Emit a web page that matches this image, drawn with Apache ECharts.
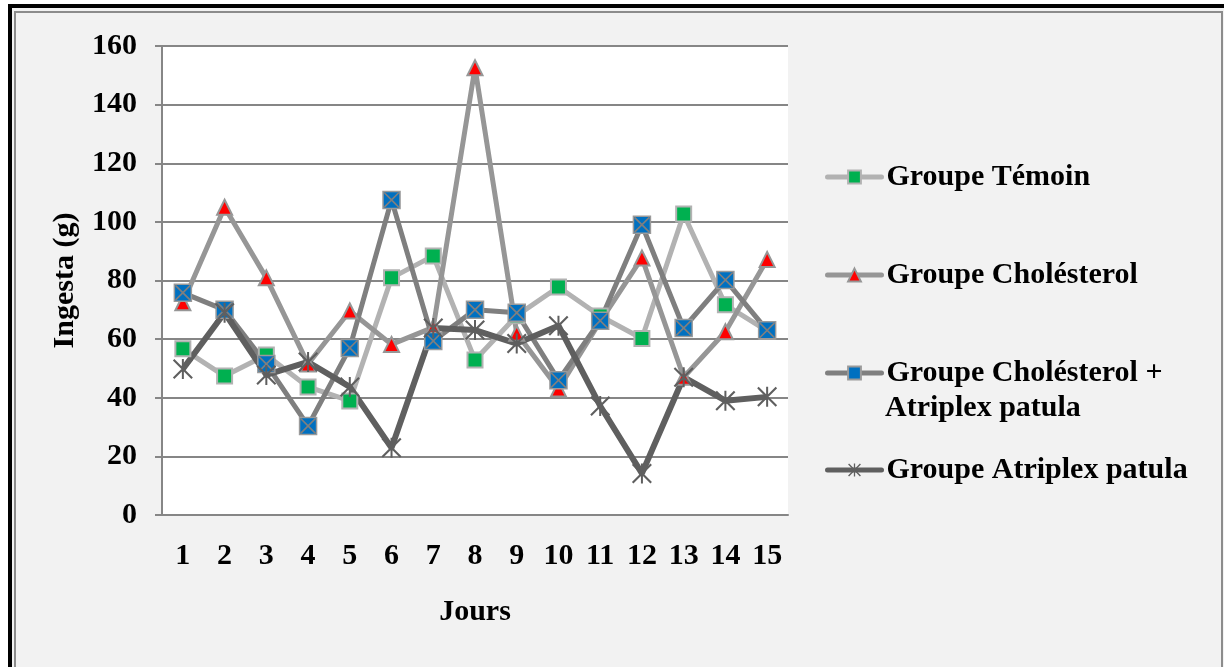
<!DOCTYPE html>
<html>
<head>
<meta charset="utf-8">
<script src="https://cdn.jsdelivr.net/npm/echarts@6/dist/echarts.min.js"></script>
<style>
html, body { margin: 0; padding: 0; background: #fff; }
#chart { width: 1224px; height: 667px; }
</style>
</head>
<body>
<div id="chart"></div>
<script>
// jours et ingesta (g)
var jours = ['1', '2', '3', '4', '5', '6', '7', '8', '9', '10', '11', '12', '13', '14', '15'];
var temoin = [56.7, 47.4, 54.6, 43.7, 38.9, 80.9, 88.4, 52.9, 68, 77.8, 67.9, 60.2, 102.7, 71.7, 62.8];
var cholesterol = [72.4, 105, 80.9, 51.5, 69.6, 58.2, 64, 152.6, 62, 43, 66, 87.7, 47, 62.5, 87.2];
var cholAtriplex = [75.8, 70, 51.5, 30.4, 57, 107.5, 59.4, 70, 69, 46, 66.3, 99, 63.8, 80.2, 63];
var atriplex = [49.8, 69, 47.8, 52.2, 43.7, 22.9, 63.8, 63.1, 58.5, 64.6, 37.2, 14.2, 47, 39, 40.3];
var yTicks = { min: 0, max: 160, interval: 20 };

var font = 'Liberation Serif';
var asterisk = 'path://M9,0L11,0L11,20L9,20Z M0,1.5L1.5,0L20,18.5L18.5,20Z M18.5,0L20,1.5L1.5,20L0,18.5Z';
var cross = 'path://M0,1.5L1.5,0L20,18.5L18.5,20Z M18.5,0L20,1.5L1.5,20L0,18.5Z';

var chart = echarts.init(document.getElementById('chart'));

function legendAt(name, centerY) {
    return {
        data: [name],
        left: 820,
        top: centerY - 17,
        itemWidth: 54,
        itemHeight: 16,
        lineStyle: { width: 5, cap: 'round' },
        textStyle: { fontFamily: font, fontWeight: 'bold', fontSize: 30, color: '#000', lineHeight: 34 }
    };
}

var option = {
    backgroundColor: '#fff',
    animation: false,
    graphic: [
        { type: 'rect', z: -10, shape: { x: 10, y: 6, width: 1240, height: 700 },
          style: { fill: '#f2f2f2', stroke: '#000', lineWidth: 4 } },
        { type: 'rect', z: -9, shape: { x: 15, y: 12, width: 1207, height: 700 },
          style: { fill: 'none', stroke: '#8c8c8c', lineWidth: 2 } },
        { type: 'text', left: 885, top: 393,
          style: { text: 'Atriplex patula', font: 'bold 30px "' + font + '"', fill: '#000' } }
    ],
    legend: [
        legendAt('Groupe Témoin', 172),
        legendAt('Groupe Cholésterol', 270),
        legendAt('Groupe Cholésterol +', 368),
        legendAt('Groupe Atriplex patula', 465)
    ],
    grid: {
        left: 162, right: 436, top: 46, bottom: 152,
        show: true, backgroundColor: '#fff', borderWidth: 0
    },
    xAxis: {
        type: 'category',
        data: jours,
        boundaryGap: true,
        name: 'Jours',
        nameLocation: 'middle',
        nameGap: 82,
        nameTextStyle: { fontFamily: font, fontWeight: 'bold', fontSize: 30, color: '#000' },
        axisLine: { lineStyle: { color: '#868686', width: 2 } },
        axisTick: { show: false },
        axisLabel: { margin: 26, fontFamily: font, fontWeight: 'bold', fontSize: 30, color: '#000', interval: 0 }
    },
    yAxis: {
        type: 'value',
        min: yTicks.min, max: yTicks.max, interval: yTicks.interval,
        name: 'Ingesta (g)',
        nameLocation: 'middle',
        nameRotate: 90,
        nameGap: 82,
        nameTextStyle: { fontFamily: font, fontWeight: 'bold', fontSize: 30, color: '#000' },
        axisLine: { show: true, lineStyle: { color: '#868686', width: 2 } },
        axisTick: { show: true, length: 7, lineStyle: { color: '#868686', width: 2 } },
        splitLine: { lineStyle: { color: '#868686', width: 2 } },
        axisLabel: { margin: 25, fontFamily: font, fontWeight: 'bold', fontSize: 30, color: '#000' }
    },
    series: [
        {
            name: 'Groupe Témoin', type: 'line', data: temoin,
            symbol: 'rect', symbolSize: 15,
            lineStyle: { color: '#b2b2b2', width: 5 },
            itemStyle: { color: '#00b050', borderColor: '#b2b2b2', borderWidth: 2 }
        },
        {
            name: 'Groupe Cholésterol', type: 'line', data: cholesterol,
            symbol: 'triangle', symbolSize: 15,
            lineStyle: { color: '#969696', width: 5 },
            itemStyle: { color: '#ff0000', borderColor: '#969696', borderWidth: 2 }
        },
        {
            name: 'Groupe Cholésterol +', type: 'line', data: cholAtriplex,
            symbol: 'rect', symbolSize: 17,
            lineStyle: { color: '#7f7f7f', width: 5 },
            itemStyle: { color: '#0070c0', borderColor: '#9a9a9a', borderWidth: 1.5 }
        },
        {
            name: 'croix', type: 'line', data: cholAtriplex,
            symbol: cross, symbolSize: 16, showSymbol: true, silent: true,
            lineStyle: { width: 0, opacity: 0 },
            itemStyle: { color: '#7f7f7f' }
        },
        {
            name: 'Groupe Atriplex patula', type: 'line', data: atriplex,
            symbol: asterisk, symbolSize: 20,
            lineStyle: { color: '#5f5f5f', width: 6 },
            itemStyle: { color: '#5f5f5f' }
        }
    ]
};

chart.setOption(option);
</script>
</body>
</html>
